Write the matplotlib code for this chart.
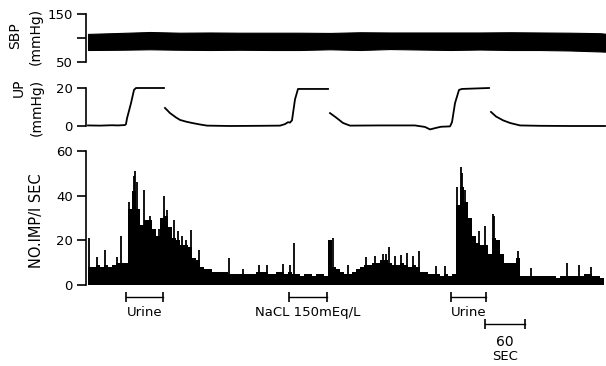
import matplotlib
matplotlib.use('Agg')
import matplotlib.pyplot as plt
import numpy as np

# systemic blood pressure envelope (mmHg) along the record (s)
sbp_t = [0, 48, 93, 138, 183, 228, 273, 318, 363, 408, 453, 498, 543, 588, 633, 678, 723, 768, 775.5]
sbp_hi = [108.5, 110.5, 112.5, 111, 111.5, 111, 111, 111, 110.5, 112, 111.5, 111.5, 111.5, 111.5, 112, 111.5, 111, 110, 109]
sbp_lo = [75, 75.5, 76.5, 75.5, 75, 75.5, 75, 75, 76.5, 75, 77, 76, 75, 76, 75, 75, 74, 72, 71.5]

# urinary pressure (mmHg), NaN where the pen trace breaks
up_t = [0, 18, 36, 45, 55.5, 57, 58.5, 64.5, 69, 72, 114, np.nan,
        115.5, 123, 132, 138, 147, 156, 168, 178.5, 213, 258, 288, 295.5, 300, 303, 306, 310.5, 315, 333, 360, np.nan,
        363, 372, 382.5, 393, 438, 490.5, 505.5, 513, 522, 529.5, 543, 546, 550.5, 556.5, 561, 601.5, np.nan,
        604.5, 612, 622.5, 633, 648, 678, 723, 775.5]
up_v = [0.3, 0.2, 0.4, 0.3, 0.5, 1.0, 4, 12, 19, 20, 20, np.nan,
        9.5, 6.8, 4.5, 3.2, 2.3, 1.6, 0.8, 0.2, 0, 0.1, 0.2, 1.0, 2.0, 1.8, 3, 14, 19.5, 19.5, 19.5, np.nan,
        6.8, 4.5, 1.6, 0.2, 0.3, 0.3, -0.5, -1.8, -1.0, -0.4, -0.2, 2, 12, 19, 19.5, 20, np.nan,
        7.4, 5, 3, 1.6, 0.3, 0.1, 0, 0]

# impulses per second, averaged over 6 s bins starting at t = 0
bin_w = 6
imp_counts = [8, 8, 9, 8, 9, 8, 9, 10, 10, 10,
              34, 42, 34, 27, 29, 29, 25, 22, 30, 31,
              26, 21, 20, 18, 18, 17, 12, 11, 8, 7,
              7, 6, 6, 6, 6, 5, 5, 5, 5, 5,
              5, 5, 6, 6, 6, 5, 5, 6, 6, 5,
              6, 5, 5, 4, 5, 5, 4, 5, 5, 4,
              20, 8, 7, 6, 5, 5, 6, 7, 8, 9,
              9, 10, 10, 11, 11, 10, 9, 9, 10, 9,
              8, 9, 8, 6, 6, 5, 5, 5, 4, 5,
              4, 5, 36, 44, 37, 30, 22, 19, 18, 18,
              14, 21, 20, 14, 10, 10, 10, 12, 4, 4,
              4, 4, 4, 4, 4, 4, 4, 3, 4, 4,
              4, 4, 4, 4, 5, 5, 4, 4, 3]

# single 1 s bins standing above the averaged level
spike_t = [1.5, 13.5, 25.5, 43.5, 49.5, 61.5, 69, 70.5, 73.5, 84, 93, 106.5, 114, 118.5, 129, 135, 141, 147,
           154.5, 166.5, 211.5, 232.5, 256.5, 268.5, 292.5, 303, 309, 367.5, 390, 417, 430.5, 442.5, 447,
           451.5, 460.5, 469.5, 478.5, 487.5, 496.5, 522, 535.5, 553.5, 559.5, 561, 565.5, 580.5, 586.5,
           595.5, 607.5, 609, 645, 664.5, 718.5, 736.5, 754.5]
spike_v = [21, 12.5, 15.5, 12.5, 22, 37, 49, 51, 46, 42.5, 31, 25, 40, 33.5, 29, 24, 22, 20,
           24.5, 15.5, 12, 7, 9, 9, 9.5, 9, 19, 21, 9, 12.5, 13, 14, 14,
           17, 13, 13.5, 14.5, 13, 15, 8.5, 8.5, 44, 53, 50, 42.5, 22, 24,
           26.5, 32, 31, 15, 7.5, 10, 9, 8]

# stimulus periods (s)
stim_labels = ['Urine', 'NaCL 150mEq/L', 'Urine']
stim_start = [57, 301.5, 544.5]
stim_end = [112.5, 358.5, 597]

W, H = 606, 366
fig = plt.figure(figsize=(W / 100, H / 100), dpi=100)


def px_axes(x0, y_top, y_bot):
    # axes box given in pixel rows from the top of the figure
    return fig.add_axes([x0 / W, 1 - y_bot / H, (W - x0) / W, (y_bot - y_top) / H])


def style(ax, ticks, labels, lo, hi):
    for s in ['top', 'right', 'bottom']:
        ax.spines[s].set_visible(False)
    ax.spines['left'].set_bounds(lo, hi)
    ax.spines['left'].set_linewidth(1.2)
    ax.set_xlim(-3, 777)
    ax.set_xticks([])
    ax.set_yticks(ticks)
    ax.set_yticklabels(labels)
    ax.tick_params(axis='y', length=6.5, width=1.2, pad=3, labelsize=9.5)


ax1 = px_axes(86, 9.2, 66.8)
ax1.fill_between(sbp_t, sbp_lo, sbp_hi, color='black', lw=0.8)
ax1.set_ylim(40, 160)
style(ax1, [50, 100, 150], ['50', '', '150'], 50, 150)

ax2 = px_axes(86, 84.2, 133.6)
ax2.plot(up_t, up_v, color='black', lw=1.3)
ax2.set_ylim(-4, 22)
style(ax2, [0, 20], ['0', '20'], 0, 20)

ax3 = px_axes(86, 146.5, 287.2)
ax3.bar(np.arange(len(imp_counts)) * bin_w, imp_counts, width=bin_w, align='edge', color='black', lw=0)
ax3.vlines(spike_t, 0, spike_v, color='black', lw=1.3)
ax3.set_ylim(-1, 62)
style(ax3, [0, 20, 40, 60], ['0', '20', '40', '60'], 0, 60)

fig.text(25.5 / W, 1 - 36 / H, 'SBP\n(mmHg)', rotation=90, ha='center', va='center',
         ma='center', fontsize=10, linespacing=1.6)
fig.text(27.5 / W, 1 - 107 / H, 'UP\n(mmHg)', rotation=90, ha='center', va='center',
         ma='right', fontsize=10, linespacing=1.4)
fig.text(37 / W, 1 - 221 / H, 'NO.IMP/I SEC', rotation=90, ha='center', va='center', fontsize=10.5)

# stimulus bars under the discharge record
for lab, a, b in zip(stim_labels, stim_start, stim_end):
    ax3.plot([a, b], [-5.4, -5.4], color='black', lw=1, marker='|', ms=7, mew=1.2, clip_on=False)
    ax3.text((a + b) / 2, -12.5, lab, ha='center', va='center', fontsize=9.5, clip_on=False)

# time calibration
ax3.plot([595.5, 655.5], [-17.5, -17.5], color='black', lw=1, marker='|', ms=7, mew=1.2, clip_on=False)
ax3.text(625.5, -25.5, '60', ha='center', va='center', fontsize=10, clip_on=False)
ax3.text(625.5, -32.2, 'SEC', ha='center', va='center', fontsize=9.5, clip_on=False)

plt.savefig('out.png', dpi=100)
